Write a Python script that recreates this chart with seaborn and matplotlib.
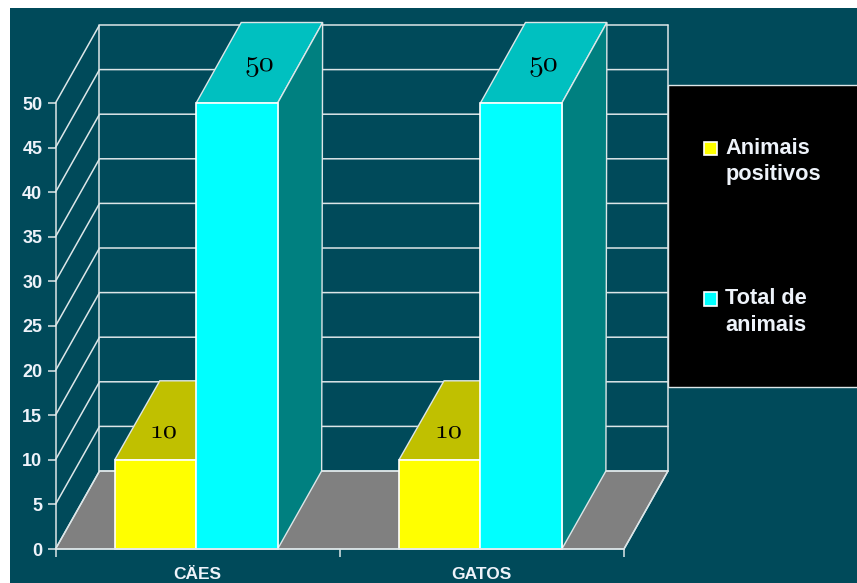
import os
import matplotlib
matplotlib.use("Agg")
import matplotlib.pyplot as plt
from matplotlib.font_manager import FontProperties
from matplotlib.patches import Polygon, Rectangle
import pandas as pd
import seaborn as sns

categorias = ["CÄES", "GATOS"]
positivos = [10, 10]
totais = [50, 50]
yticks = [0, 5, 10, 15, 20, 25, 30, 35, 40, 45, 50]
serie_pos = "Animais\npositivos"
serie_tot = "Total de\nanimais"

W, H = 857, 583
FUNDO = "#004a5a"
LINHA = "#dde6e8"
TEXTO = "#eef3fa"

sns.set_theme(style="white")
plt.rcParams["font.family"] = ["Liberation Sans", "DejaVu Sans"]

# cmmi10 vem com o matplotlib e tem algarismos antigos, como no original
fonte_num = os.path.join(matplotlib.get_data_path(), "fonts", "ttf", "cmmi10.ttf")

df = pd.DataFrame({
    "cat": categorias * 2,
    "valor": positivos + totais,
    "serie": [serie_pos] * 2 + [serie_tot] * 2,
})

fig = plt.figure(figsize=(W / 100, H / 100), dpi=100, facecolor="white")
fig.patches.append(Rectangle((10 / W, 0), 1, 1 - 8 / H, transform=fig.transFigure,
                             facecolor=FUNDO, edgecolor="none", zorder=-5))
ax = fig.add_axes([55.5 / W, (H - 549) / H, 568.5 / W, 446 / H])
ax.patch.set_alpha(0)

sns.barplot(data=df, x="cat", y="valor", hue="serie", ax=ax, width=0.573, gap=0,
            palette=["#ffff00", "#00ffff"], edgecolor="white", linewidth=1.2, saturation=1)
ax.set_xlim(-0.5, 1.5)
ax.set_ylim(0, 50)
ax.set_xlabel("")
ax.set_ylabel("")

# profundidade do efeito 3D em unidades dos dados
dx = 44 / 284.25
dy = 78 / 8.92
# as barras sobem um pouco mais que a parede
dx_barra = 45 / 284.25
dy_barra = [79 / 8.92, 80.5 / 8.92]

# chao e paredes
ax.add_patch(Polygon([(-0.5, 0), (1.5, 0), (1.5 + dx, dy), (-0.5 + dx, dy)], closed=True,
                     facecolor="#808080", edgecolor=LINHA, lw=1, clip_on=False, zorder=1))
for v in yticks:
    ax.plot([-0.5, -0.5 + dx, 1.5 + dx], [v, v + dy, v + dy], color=LINHA, lw=1.1,
            clip_on=False, zorder=1.5)
for x0 in [-0.5 + dx, 1.5 + dx]:
    ax.plot([x0, x0], [dy, 50 + dy], color=LINHA, lw=1.1, clip_on=False, zorder=1.5)
ax.plot([1.5, 1.5 + dx], [0, dy], color=LINHA, lw=1.1, clip_on=False, zorder=1.5)

# faces de cima e laterais
cores_topo = ["#c0c000", "#00c0c0"]
cores_lado = ["#808000", "#008080"]
for i, cont in enumerate(ax.containers):
    for bar in cont:
        bar.set_x(bar.get_x() - 0.005)
        x0, x1, h = bar.get_x(), bar.get_x() + bar.get_width(), bar.get_height()
        topo = h + dy_barra[i]
        ax.add_patch(Polygon([(x0, h), (x1, h), (x1 + dx_barra, topo), (x0 + dx_barra, topo)],
                             closed=True, facecolor=cores_topo[i], edgecolor=LINHA, lw=1, clip_on=False,
                             zorder=2 + i))
        ax.add_patch(Polygon([(x1, 0), (x1 + dx, dy), (x1 + dx_barra, topo), (x1, h)], closed=True,
                             facecolor=cores_lado[i], edgecolor=LINHA, lw=1, clip_on=False,
                             zorder=2 + i))
        bar.set_zorder(4 + i)
        bar.set_clip_on(False)
        # o 10 fica na parte visivel do topo
        off_x, off_y = (dx * 0.19, dy * 0.37) if i == 0 else (dx * 0.5, dy * 0.5)
        ax.text((x0 + x1) / 2 + off_x, h + off_y, str(int(h)), ha="center", va="center",
                font=FontProperties(fname=fonte_num), fontsize=20 if i == 0 else 21.5,
                color="black", zorder=7)

# eixos
sns.despine(ax=ax, top=True, right=True)
for s in ["left", "bottom"]:
    ax.spines[s].set_color(LINHA)
    ax.spines[s].set_linewidth(1.1)
    ax.spines[s].set_zorder(8)
ax.set_yticks(yticks)
ax.set_xticks([-0.5, 0.5, 1.5], minor=True)
ax.tick_params(axis="y", left=True, length=6, width=1.1, color=LINHA, pad=3.5,
               labelsize=13, labelcolor=TEXTO)
ax.tick_params(axis="x", which="minor", bottom=True, length=6, width=1.1, color=LINHA)
ax.tick_params(axis="x", which="major", bottom=False, pad=7, labelsize=12.5, labelcolor=TEXTO)
for t in ax.get_xticklabels() + ax.get_yticklabels():
    t.set_fontweight("bold")

# legenda
fig.patches.append(Rectangle((668 / W, (H - 387) / H), 1, 302 / H, transform=fig.transFigure,
                             facecolor="black", edgecolor=LINHA, lw=1, zorder=-4))
sns.move_legend(ax, "upper left", bbox_to_anchor=(684 / W, (H - 118) / H),
                bbox_transform=fig.transFigure, frameon=False, title=None,
                labelcolor=TEXTO, prop={"family": "Liberation Sans", "weight": "bold", "size": 15.7},
                labelspacing=4.72, handlelength=0.6, handleheight=0.6, handletextpad=0.4,
                borderpad=0.4, alignment="left")
leg = ax.get_legend()
for t in leg.get_texts():
    t.set_linespacing(1.35)
# quadradinho alinhado com a primeira linha do texto
for p in leg.get_patches():
    p.set_y(p.get_y() + 9.5)

fig.savefig("out.png", dpi=100, facecolor="white")
